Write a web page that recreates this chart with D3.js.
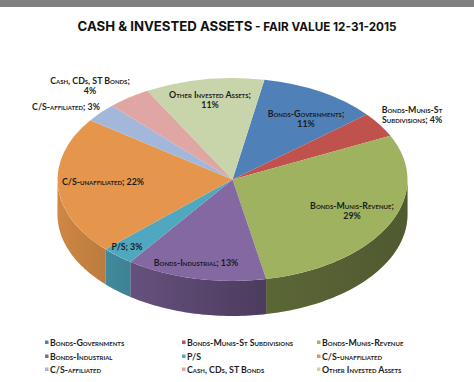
<!DOCTYPE html>
<html>
<head>
<meta charset="utf-8">
<script src="https://cdn.jsdelivr.net/npm/d3@7"></script>
<style>
  html, body { margin: 0; padding: 0; background: #fff; }
  text { font-family: "Lato", "Open Sans", sans-serif; fill: #1c1c1c; }
  text.title { font-family: "Inter", "Open Sans", sans-serif; }
</style>
</head>
<body>
<div id="chart"></div>
<script>
// Data
const categories = ["Bonds-Governments", "Bonds-Munis-St Subdivisions", "Bonds-Munis-Revenue",
  "Bonds-Industrial", "P/S", "C/S-unaffiliated", "C/S-affiliated", "Cash, CDs, ST Bonds", "Other Invested Assets"];
const shares = [11, 4, 29, 13, 3, 22, 3, 4, 11];
const colors = ["#4f81b8", "#c0524e", "#9fb25f", "#8368a2", "#4fa8bf", "#e5964c", "#a3b7da", "#e0a6a4", "#c8d5aa"];
const sliceLabels = [
  ["Bonds-Governments;", "11%"],
  ["Bonds-Munis-St", "Subdivisions; 4%"],
  ["Bonds-Munis-Revenue;", "29%"],
  ["Bonds-Industrial; 13%"],
  ["P/S; 3%"],
  ["C/S-unaffiliated; 22%"],
  ["C/S-affiliated; 3%"],
  ["Cash, CDs, ST Bonds;", "4%"],
  ["Other Invested Assets;", "11%"]
];

// Layout
const width = 474, height = 382;
const cx = 232.5, cy = 179.5, rx = 175, ry = 101.5, depth = 35;
const labelPos = [[306, 114], [412, 110], [352, 206], [196, 263], [127, 247], [103, 182], [66, 107], [90, 81], [210, 95]];
const legendX = [45, 182, 317], legendY = [343, 357, 370];

const svg = d3.select("#chart").append("svg")
  .attr("width", width)
  .attr("height", height)
  .style("display", "block");

// Grey strip along the top
svg.append("rect").attr("width", width).attr("height", 7).attr("fill", "#808080");

// Title
const title = svg.append("text")
  .attr("class", "title")
  .attr("x", 237).attr("y", 31)
  .attr("text-anchor", "middle")
  .style("font-weight", 700)
  .style("fill", "#111");
title.append("tspan").style("font-size", "13.2px").text("CASH & INVESTED ASSETS");
title.append("tspan").style("font-size", "11.7px").text(" - FAIR VALUE 12-31-2015");

// Pie
const start = 10.5 * Math.PI / 180;
const arcs = d3.pie().sort(null).startAngle(start).endAngle(start + 2 * Math.PI)(shares);
const arc = d3.arc().innerRadius(0).outerRadius(rx);

// Shade for the side wall, light comes from the left
const shade = svg.append("defs").append("linearGradient")
  .attr("id", "wallShade")
  .attr("gradientUnits", "userSpaceOnUse")
  .attr("x1", cx - rx).attr("x2", cx + rx).attr("y1", 0).attr("y2", 0);
[[0, 0.1], [0.2, 0.22], [0.58, 0.42], [1, 0.5]].forEach(s => {
  shade.append("stop").attr("offset", s[0]).attr("stop-color", "#000").attr("stop-opacity", s[1]);
});

// Side wall only exists on the front half of the ellipse
function wallPath(d) {
  const a0 = Math.max(d.startAngle, Math.PI / 2);
  const a1 = Math.min(d.endAngle, 3 * Math.PI / 2);
  if (a1 <= a0) return null;
  const pts = d3.range(0, 41).map(i => a0 + (a1 - a0) * i / 40);
  const top = pts.map(a => [cx + rx * Math.sin(a), cy - ry * Math.cos(a)]);
  const bottom = top.map(p => [p[0], p[1] + depth]).reverse();
  return d3.line()(top.concat(bottom)) + "Z";
}

const walls = arcs.filter(d => wallPath(d));
svg.selectAll(".wall").data(walls).enter().append("path")
  .attr("class", "wall")
  .attr("d", wallPath)
  .attr("fill", d => colors[d.index]);
svg.selectAll(".wallShade").data(walls).enter().append("path")
  .attr("class", "wallShade")
  .attr("d", wallPath)
  .attr("fill", "url(#wallShade)");

svg.append("g")
  .attr("transform", `translate(${cx},${cy}) scale(1,${ry / rx})`)
  .selectAll("path").data(arcs).enter().append("path")
  .attr("d", arc)
  .attr("fill", d => colors[d.index]);

// Slice labels
sliceLabels.forEach((lines, i) => {
  lines.forEach((line, j) => {
    svg.append("text")
      .attr("x", labelPos[i][0])
      .attr("y", labelPos[i][1] + j * 10 + 3)
      .attr("text-anchor", "middle")
      .style("font-size", "8.8px")
      .style("font-weight", 700)
      .style("font-variant", "small-caps")
      .text(line);
  });
});

// Legend, filled column by column across three rows
categories.forEach((c, i) => {
  const lx = legendX[i % 3], ly = legendY[Math.floor(i / 3)];
  svg.append("rect")
    .attr("x", lx).attr("y", ly - 2.5)
    .attr("width", 3.5).attr("height", 3.5)
    .attr("fill", colors[i]);
  svg.append("text")
    .attr("x", lx + 5).attr("y", ly + 3)
    .style("font-size", "8.8px")
    .style("font-weight", 700)
    .style("font-variant", "small-caps")
    .text(c);
});
</script>
</body>
</html>
